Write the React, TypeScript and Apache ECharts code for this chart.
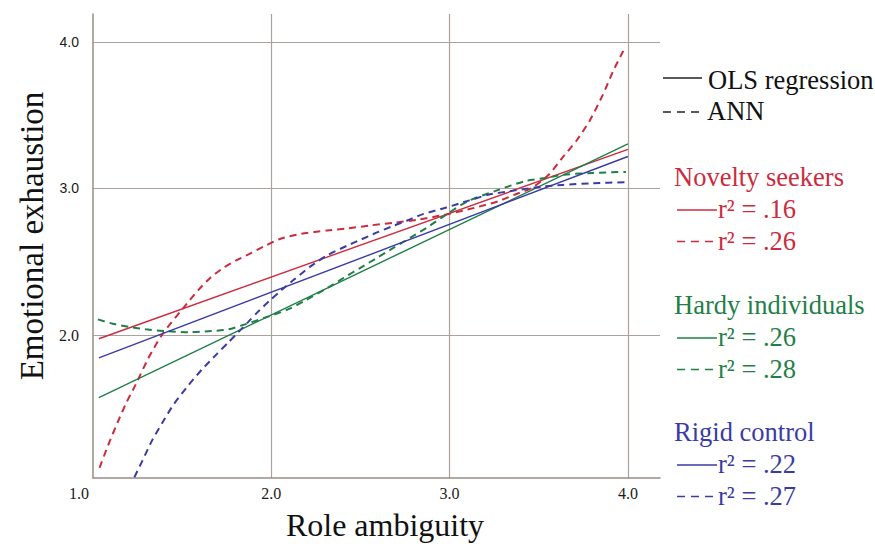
import React, { useEffect, useRef } from 'react';
import * as echarts from 'echarts';

// ---------- data ----------
const groups = ['Novelty seekers', 'Hardy individuals', 'Rigid control'];
const groupColors = ['#cc2b3e', '#1f7f47', '#3b3ba6'];
const olsR2 = ['.16', '.26', '.22'];
const annR2 = ['.26', '.28', '.27'];
const xTicks = [1, 2, 3, 4];
const yTicks = [2, 3, 4];

const noveltyOls: number[][] = [[1.033, 1.975], [4.0, 3.266]];
const hardyOls: number[][] = [[1.033, 1.573], [4.0, 3.304]];
const rigidOls: number[][] = [[1.033, 1.845], [4.0, 3.218]];

const noveltyAnn: number[][] = [
  [1.037, 1.095], [1.083, 1.243], [1.139, 1.407], [1.189, 1.543], [1.24, 1.664],
  [1.311, 1.843], [1.389, 2.005], [1.5, 2.175], [1.593, 2.31], [1.657, 2.39],
  [1.732, 2.459], [1.806, 2.511], [1.889, 2.561], [1.963, 2.607], [2.056, 2.659],
  [2.167, 2.69], [2.315, 2.714], [2.426, 2.727], [2.556, 2.748], [2.685, 2.766],
  [2.833, 2.789], [2.982, 2.823], [3.14, 2.868], [3.273, 2.913], [3.368, 2.959],
  [3.462, 3.004], [3.557, 3.095], [3.632, 3.209], [3.709, 3.322], [3.784, 3.459],
  [3.86, 3.64], [3.917, 3.8], [3.973, 3.936], [3.989, 3.97],
];

const hardyAnn: number[][] = [
  [1.028, 2.107], [1.111, 2.077], [1.204, 2.055], [1.296, 2.039], [1.407, 2.027],
  [1.537, 2.02], [1.667, 2.027], [1.759, 2.039], [1.852, 2.073], [1.963, 2.118],
  [2.093, 2.175], [2.185, 2.232], [2.315, 2.322], [2.407, 2.391], [2.5, 2.459],
  [2.593, 2.527], [2.685, 2.595], [2.778, 2.663], [2.87, 2.731], [2.982, 2.823],
  [3.102, 2.913], [3.254, 2.982], [3.424, 3.05], [3.538, 3.072], [3.652, 3.095],
  [3.803, 3.106], [3.989, 3.113],
];

const rigidAnn: number[][] = [
  [1.232, 1.03], [1.278, 1.145], [1.333, 1.285], [1.398, 1.42], [1.454, 1.53],
  [1.537, 1.66], [1.611, 1.765], [1.694, 1.87], [1.759, 1.95], [1.815, 2.02],
  [1.871, 2.09], [1.926, 2.16], [2.0, 2.245], [2.056, 2.305], [2.129, 2.38],
  [2.222, 2.47], [2.315, 2.545], [2.426, 2.61], [2.5, 2.65], [2.593, 2.7],
  [2.685, 2.745], [2.759, 2.78], [2.851, 2.825], [2.982, 2.87], [3.102, 2.915],
  [3.216, 2.957], [3.368, 2.987], [3.519, 3.013], [3.632, 3.024], [3.803, 3.036],
  [3.989, 3.043],
];

const olsData = [noveltyOls, hardyOls, rigidOls];
const annData = [noveltyAnn, hardyAnn, rigidAnn];

const SERIF = 'Liberation Serif';
const SANS = 'Liberation Sans';

export default function App() {
  const ref = useRef<HTMLDivElement>(null);

  useEffect(() => {
    if (!ref.current) return;
    const chart = echarts.init(ref.current, undefined, { renderer: 'svg' });

    const series: any[] = [];
    groups.forEach((g, i) => {
      series.push({
        name: g + ' OLS',
        type: 'line',
        data: olsData[i],
        showSymbol: false,
        symbol: 'none',
        lineStyle: { color: groupColors[i], width: 1.4, type: 'solid' },
        z: 3,
      });
      series.push({
        name: g + ' ANN',
        type: 'line',
        data: annData[i],
        showSymbol: false,
        symbol: 'none',
        smooth: 0.25,
        lineStyle: { color: groupColors[i], width: 2, type: [7, 5] },
        z: 3,
      });
    });

    // legend graphics
    const legendFont = 26.5;
    const graphic: any[] = [];
    const addLine = (x1: number, x2: number, y: number, color: string, dashed: boolean) => {
      graphic.push({
        type: 'line',
        shape: { x1, y1: y, x2, y2: y },
        style: { stroke: color, lineWidth: 1.5, lineDash: dashed ? [8, 6] : null },
        silent: true,
      });
    };
    const addText = (text: string, x: number, y: number, color: string, size = legendFont) => {
      graphic.push({
        type: 'text',
        x,
        y,
        style: {
          text,
          fill: color,
          fontFamily: SERIF,
          fontSize: size,
          textAlign: 'left',
          textVerticalAlign: 'middle',
        },
        silent: true,
      });
    };

    addLine(663, 702, 78, '#222', false);
    addText('OLS regression', 708, 80, '#111');
    addLine(663, 700, 112, '#222', true);
    addText('ANN', 707, 111, '#111');

    const groupY = [177, 305, 432];
    groups.forEach((g, i) => {
      const y0 = groupY[i];
      const c = groupColors[i];
      addText(g, 674, y0, c);
      addLine(677, 717, y0 + 33, c, false);
      addText(`r² = ${olsR2[i]}`, 718, y0 + 32, c);
      addLine(677, 713, y0 + 64.5, c, true);
      addText(`r² = ${annR2[i]}`, 718, y0 + 63.5, c);
    });

    // axis titles
    graphic.push({
      type: 'text',
      x: 32,
      y: 236,
      rotation: Math.PI / 2,
      style: {
        text: 'Emotional exhaustion',
        fill: '#111',
        fontFamily: SERIF,
        fontSize: 33,
        textAlign: 'center',
        textVerticalAlign: 'middle',
      },
      silent: true,
    });
    graphic.push({
      type: 'text',
      x: 385,
      y: 525,
      style: {
        text: 'Role ambiguity',
        fill: '#111',
        fontFamily: SERIF,
        fontSize: 32,
        textAlign: 'center',
        textVerticalAlign: 'middle',
      },
      silent: true,
    });

    const axisLineStyle = { color: '#968c86', width: 1.5 };
    const gridLineStyle = { color: '#aba29d', width: 1.2, type: 'solid' };

    chart.setOption({
      animation: false,
      backgroundColor: '#ffffff',
      grid: { left: 93, right: 215, top: 14, bottom: 68, containLabel: false },
      xAxis: {
        type: 'value',
        min: 1,
        max: 4.18,
        axisLine: { show: true, onZero: false, lineStyle: axisLineStyle },
        axisTick: { show: false, customValues: [2, 3, 4] },
        axisLabel: {
          customValues: xTicks,
          margin: 7,
          color: '#1a1a1a',
          fontFamily: SERIF,
          fontSize: 16,
          formatter: (v: number) => (v === 1 ? '{s|1.0}' : '{n|' + v.toFixed(1) + '}'),
          rich: {
            s: { fontFamily: SERIF, fontSize: 16, color: '#1a1a1a', padding: [0, 28, 0, 0] },
            n: { fontFamily: SERIF, fontSize: 16, color: '#1a1a1a' },
          },
        },
        splitLine: { show: true, lineStyle: gridLineStyle },
      },
      yAxis: {
        type: 'value',
        min: 1.025,
        max: 4.19,
        axisLine: { show: true, onZero: false, lineStyle: axisLineStyle },
        axisTick: { show: false, customValues: yTicks },
        axisLabel: {
          customValues: yTicks,
          margin: 14,
          color: '#1a1a1a',
          formatter: (v: number) => (v >= 3 ? '{a|' + v.toFixed(1) + '}' : '{b|' + v.toFixed(1) + '}'),
          rich: {
            a: { fontFamily: SANS, fontSize: 14, color: '#1a1a1a' },
            b: { fontFamily: SERIF, fontSize: 16, color: '#1a1a1a' },
          },
        },
        splitLine: { show: true, lineStyle: gridLineStyle },
      },
      series,
      graphic,
    });

    return () => chart.dispose();
  }, []);

  return (
    <div
      ref={ref}
      style={{ position: 'absolute', left: 0, top: 0, width: 875, height: 546, background: '#fff' }}
    />
  );
}
